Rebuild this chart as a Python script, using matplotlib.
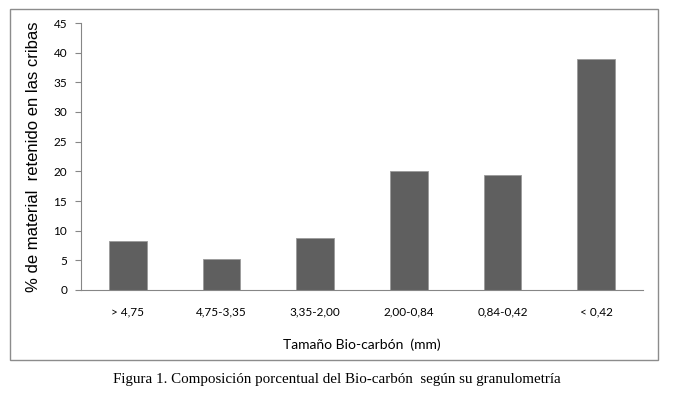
import matplotlib.pyplot as plt
from matplotlib.patches import Rectangle

categories = ['> 4,75', '4,75-3,35', '3,35-2,00', '2,00-0,84', '0,84-0,42', '< 0,42']
values = [8.2, 5.2, 8.7, 20.1, 19.4, 38.9]
yticks = [0, 5, 10, 15, 20, 25, 30, 35, 40, 45]

fig = plt.figure(figsize=(6.73, 3.99), dpi=100)

# outer chart frame
frame = Rectangle((10 / 673, 1 - 360 / 399), 648 / 673, 351 / 399,
                  transform=fig.transFigure, fill=False,
                  edgecolor='#8c8c8c', linewidth=1.0)
fig.patches.append(frame)

ax = fig.add_axes([81 / 673, 109 / 399, 562 / 673, 267 / 399])
x = range(len(categories))
ax.bar(x, values, width=0.4, color='#5f5f5f', edgecolor='#9a9a9a', linewidth=0.6, zorder=2)

ax.set_xlim(-0.5, len(categories) - 0.5)
ax.set_ylim(0, 45)
ax.set_yticks(yticks)
ax.set_yticklabels([str(t) for t in yticks], fontsize=8.5, family='Lato')
ax.set_xticks(list(x))
ax.set_xticklabels(categories, fontsize=8.5, family='Lato')
ax.tick_params(axis='x', length=0, pad=12)
ax.tick_params(axis='y', length=4, color='#868686', pad=6)

for side in ['top', 'right']:
    ax.spines[side].set_visible(False)
ax.spines['left'].set_color('#868686')
ax.spines['bottom'].set_color('#868686')

ax.set_ylabel('% de material  retenido en las cribas', fontsize=12,
              family='Liberation Sans', labelpad=9)
ax.set_xlabel('Tamaño Bio-carbón  (mm)', fontsize=10, family='Lato', labelpad=15)

fig.text(0.5, 1 - 380 / 399,
         'Figura 1. Composición porcentual del Bio-carbón  según su granulometría',
         ha='center', va='center', fontsize=10.8, family='Liberation Serif')

fig.savefig('out.png', dpi=100)
